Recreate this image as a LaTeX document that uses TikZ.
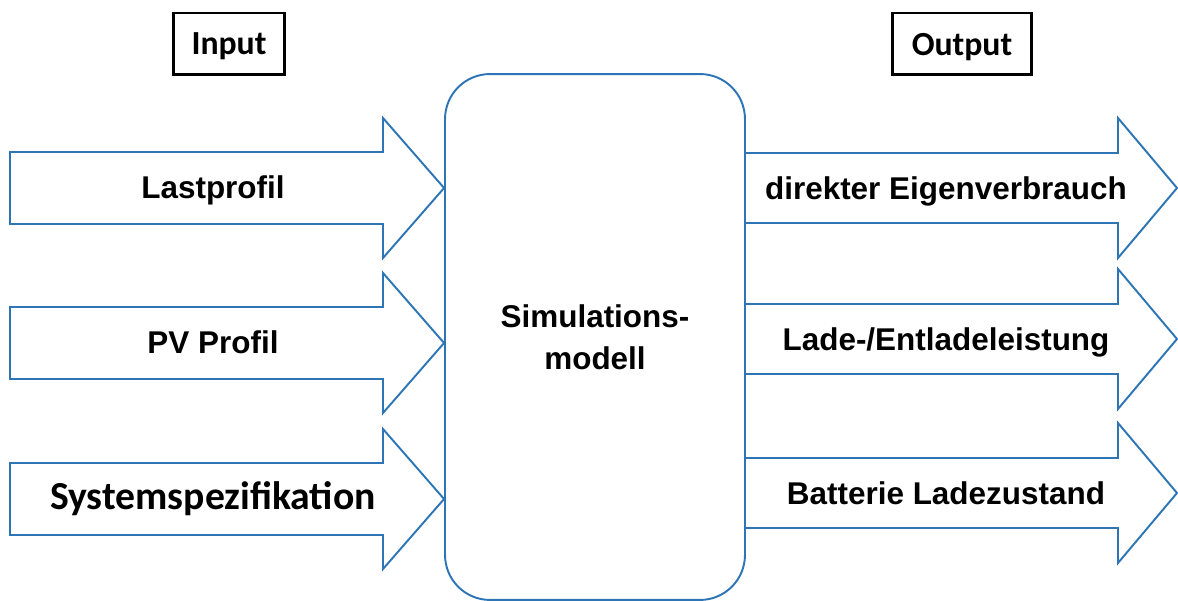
\documentclass[tikz,border=0pt]{standalone}
\usepackage{fontspec}
\setmainfont{Liberation Sans}
\newfontfamily\calibri{Carlito}
\usetikzlibrary{calc}
\definecolor{FlowClr}{RGB}{46,117,182}

% block arrow into the model: #1 name, #2 axis, #3 text, #4 font
\newcommand\InArrow[4]{%
  \coordinate (#1axis) at (0,#2);
  \draw[blockline] (10,#2-36) -- (383,#2-36) -- (383,#2-70) -- (sim.west |- #1axis)
    -- (383,#2+70) -- (383,#2+36) -- (10,#2+36) -- cycle;
  \node[arrowtxt,#4] (#1) at (213,#2+11) {#3};
}
% block arrow out of the model
\newcommand\OutArrow[3]{%
  \coordinate (#1top) at (0,#2-35);
  \coordinate (#1bot) at (0,#2+35);
  \draw[blockline] (sim.east |- #1top) -- (1118,#2-35) -- (1118,#2-70) -- (1177,#2)
    -- (1118,#2+70) -- (1118,#2+35) -- (sim.east |- #1bot);
  \node[arrowtxt] (#1) at (946,#2+12) {#3};
}

\begin{document}
\begin{tikzpicture}[x=0.02cm,y=-0.02cm,
  blockline/.style={draw=FlowClr,line width=1.1pt,line join=miter},
  arrowtxt/.style={anchor=base,inner sep=0pt,font=\bfseries\fontsize{17.9}{23.8}\selectfont},
  titlebox/.style={draw,line width=1.7pt,minimum height=1.24cm,inner sep=0pt,text depth=0pt,
    font=\calibri\bfseries\fontsize{19.2}{23}\selectfont}]

\useasboundingbox (0,0) rectangle (1178,601);

\node[titlebox,minimum width=2.24cm] (input) at (229,44) {Input};
\node[titlebox,minimum width=2.78cm] (output) at (962,44) {Output};

\node[blockline,rounded corners=0.9cm,minimum width=6cm,minimum height=10.52cm,
  align=center,font=\bfseries\fontsize{17.9}{23.8}\selectfont] (sim) at (595,337)
  {Simulations-\\modell};

\InArrow{last}{188}{Lastprofil}{}
\InArrow{pv}{343}{PV Profil}{}
\InArrow{spec}{499}{Systemspezifikation}{font=\calibri\bfseries\fontsize{22.6}{27}\selectfont}

\OutArrow{eigen}{188}{direkter Eigenverbrauch}
\OutArrow{lade}{339}{Lade-/Entladeleistung}
\OutArrow{soc}{493}{Batterie Ladezustand}

\end{tikzpicture}
\end{document}
